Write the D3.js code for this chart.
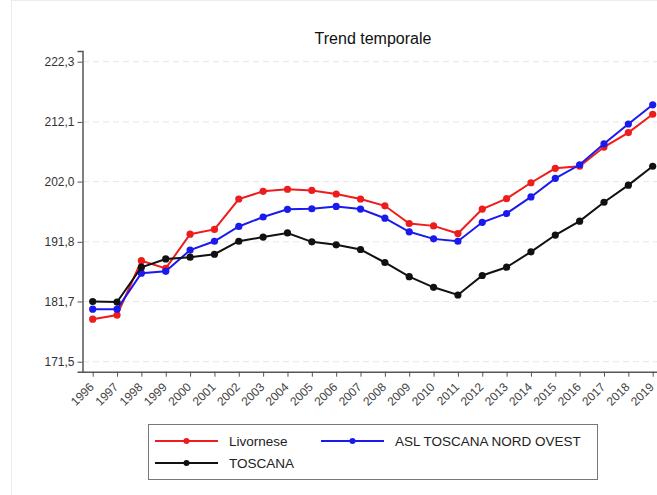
<!DOCTYPE html>
<html><head><meta charset="utf-8">
<script src="https://cdn.jsdelivr.net/npm/d3@7"></script>
<style>
body{margin:0;background:#fff;}
svg{font-family:"Liberation Sans",Arial,sans-serif;}
</style></head>
<body><svg id="c" width="657" height="495"></svg>
<script>
const years = [1996,1997,1998,1999,2000,2001,2002,2003,2004,2005,2006,2007,2008,2009,2010,2011,2012,2013,2014,2015,2016,2017,2018,2019];
const livornese = [178.7,179.4,188.6,187.3,193.1,193.9,199.05,200.35,200.7,200.5,199.9,199.05,197.9,194.9,194.5,193.2,197.35,199.1,201.8,204.25,204.6,207.85,210.3,213.4];
const aslNordOvest = [180.4,180.4,186.5,186.8,190.4,191.9,194.4,196.0,197.3,197.4,197.8,197.35,195.8,193.5,192.3,191.9,195.1,196.6,199.4,202.55,204.85,208.4,211.75,215.0];
const toscana = [181.7,181.6,187.5,188.9,189.2,189.7,191.9,192.6,193.3,191.8,191.3,190.5,188.3,185.9,184.1,182.8,186.1,187.5,190.1,192.95,195.3,198.5,201.4,204.6];
const yTickValues = [171.5,181.7,191.8,202.0,212.1,222.3];
const yTickLabels = ["171,5","181,7","191,8","202,0","212,1","222,3"];
const seriesNames = ["Livornese","ASL TOSCANA NORD OVEST","TOSCANA"];
const seriesColors = ["#ee1c1c","#1a1aee","#111111"];

const svg = d3.select("#c");
const series = [livornese, aslNordOvest, toscana];

// light outer frame
svg.append("rect").attr("x",11.5).attr("y",0.5).attr("width",660).attr("height",500)
  .attr("fill","none").attr("stroke","#ececec");

const x = d3.scalePoint().domain(years).range([92.7, 652.7]);
const y = d3.scaleLinear().domain([169.81, 224.11]).range([371.7, 51]);

// gridlines
svg.append("g").selectAll("line").data(yTickValues).join("line")
  .attr("x1",83).attr("x2",657)
  .attr("y1",d=>y(d)).attr("y2",d=>y(d))
  .attr("stroke","#e6e6e6").attr("stroke-width",1).attr("stroke-dasharray","6,4");

// title
svg.append("text").attr("x",373).attr("y",44).attr("text-anchor","middle")
  .attr("font-size",16).attr("fill","#111").text("Trend temporale");

// y axis
const yAxis = svg.append("g").attr("transform","translate(82.5,0)")
  .call(d3.axisLeft(y).tickValues(yTickValues).tickSizeOuter(0).tickSize(5)
    .tickFormat((d,i)=>yTickLabels[i]));
yAxis.select(".domain").attr("stroke","#555").attr("stroke-width",1.5);
yAxis.selectAll(".tick line").attr("stroke","#555");
yAxis.selectAll(".tick text").attr("font-size",12).attr("fill","#333")
  .attr("font-family","Liberation Sans, Arial, sans-serif").attr("x",-8);

// x axis
const xAxis = svg.append("g").attr("transform","translate(0,371.7)")
  .call(d3.axisBottom(x).tickSizeOuter(0).tickSize(5));
xAxis.select(".domain").attr("d","M82,0.5H657").attr("stroke","#555").attr("stroke-width",1.5);
xAxis.selectAll(".tick line").attr("stroke","#555");
xAxis.selectAll(".tick text").attr("font-size",12).attr("fill","#444")
  .attr("font-family","Liberation Sans, Arial, sans-serif")
  .attr("text-anchor","end").attr("dy",0).attr("y",0)
  .attr("transform","translate(1.5,16) rotate(-45)");

// lines
const line = d3.line().x((d,i)=>x(years[i])).y(d=>y(d));
series.forEach((s,k)=>{
  const g = svg.append("g");
  g.append("path").attr("d",line(s)).attr("fill","none")
    .attr("stroke",seriesColors[k]).attr("stroke-width",2);
  g.selectAll("circle").data(s).join("circle")
    .attr("cx",(d,i)=>x(years[i])).attr("cy",d=>y(d)).attr("r",3.6)
    .attr("fill",seriesColors[k]);
});

// legend
const lg = svg.append("g");
lg.append("rect").attr("x",148.5).attr("y",424.5).attr("width",449).attr("height",55)
  .attr("fill","#fff").attr("stroke","#777");
const legPos = [[155,441],[321,441],[155,463]];
seriesNames.forEach((n,k)=>{
  const [lx,ly] = legPos[k];
  lg.append("line").attr("x1",lx).attr("x2",lx+63).attr("y1",ly).attr("y2",ly)
    .attr("stroke",seriesColors[k]).attr("stroke-width",1.8);
  lg.append("circle").attr("cx",lx+31.5).attr("cy",ly).attr("r",3).attr("fill",seriesColors[k]);
  lg.append("text").attr("x",lx+74).attr("y",ly+5).attr("font-size",13.5)
    .attr("fill","#222").text(n);
});
</script></body></html>
